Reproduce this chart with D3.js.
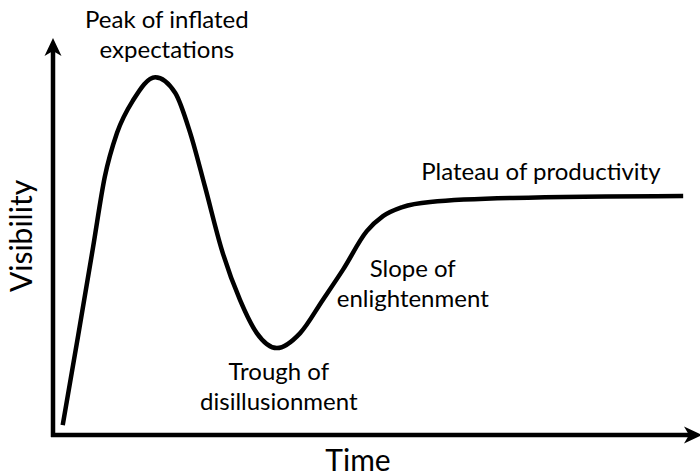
<!DOCTYPE html>
<html lang="en">
<head>
<meta charset="utf-8">
<title>Hype cycle</title>
<script src="https://cdn.jsdelivr.net/npm/d3@7"></script>
<style>
    body { margin: 0; background: #fff; }
    text {
        font-family: Lato, "Noto Sans", sans-serif;
        fill: #000;
    }
    .label { font-size: 24px; }
    .axis-title { font-size: 30px; }
</style>
</head>
<body>
<div id="chart"></div>
<script>

// curve (time 0-100, visibility 0-100)
var timeValues = [1.5, 3.9, 6.2, 8.0, 9.9, 12.4, 15.8, 18.9, 21.2, 23.5, 26.1,
    28.9, 31.5, 34.6, 38.2, 41.7, 44.8, 48.5, 51.0, 54.0, 58.3, 71.1, 97.4];
var visibilityValues = [2.5, 25.3, 47.6, 65.3, 76.5, 84.8, 90.6, 86.6, 76.5, 62.8, 46.8,
    34.2, 25.8, 22.0, 25.8, 34.2, 41.8, 51.6, 55.4, 57.7, 59.0, 60.0, 60.5];

// phase names and where they sit (data units, first line baseline)
var phaseNames = [
    ["Peak of inflated", "expectations"],
    ["Plateau of productivity"],
    ["Slope of", "enlightenment"],
    ["Trough of", "disillusionment"]
];
var phaseTime = [17.6, 75.4, 55.6, 34.9];
var phaseVisibility = [103.0, 64.6, 40.0, 13.9];

var xTitle = "Time", yTitle = "Visibility";

var width = 700, height = 476;

var svg = d3.select("#chart")
    .append("svg")
    .attr("width", width)
    .attr("height", height);

var x = d3.scaleLinear().domain([0, 100]).range([53, 700]);
var y = d3.scaleLinear().domain([0, 100]).range([435, 40]);

var points = timeValues.map(function(t, i) { return [t, visibilityValues[i]]; });

var line = d3.line()
    .x(function(d) { return x(d[0]); })
    .y(function(d) { return y(d[1]); })
    .curve(d3.curveMonotoneX);

svg.append("path")
    .datum(points)
    .attr("d", line)
    .attr("fill", "none")
    .attr("stroke", "#000")
    .attr("stroke-width", 4.5)
    .attr("stroke-linecap", "butt")
    .attr("stroke-linejoin", "round");

// axes: plain lines with arrow heads
var x0 = x(0), y0 = y(0);
var yTip = y.range()[1] - 2, xTip = x.range()[1] + 2;

svg.append("line")
    .attr("x1", x0).attr("y1", y0 + 2)
    .attr("x2", x0).attr("y2", yTip + 12)
    .attr("stroke", "#000").attr("stroke-width", 4.5);

svg.append("line")
    .attr("x1", x0 - 2).attr("y1", y0)
    .attr("x2", xTip - 12).attr("y2", y0)
    .attr("stroke", "#000").attr("stroke-width", 4.5);

var head = "M0,0 L-18,-8.5 L-13,0 L-18,8.5 Z";

svg.append("path")
    .attr("d", head)
    .attr("transform", "translate(" + x0 + "," + yTip + ") rotate(-90)")
    .attr("fill", "#000");

svg.append("path")
    .attr("d", head)
    .attr("transform", "translate(" + xTip + "," + y0 + ")")
    .attr("fill", "#000");

// phase labels
phaseNames.forEach(function(lines, i) {
    var t = svg.append("text")
        .attr("class", "label")
        .attr("text-anchor", "middle")
        .attr("x", x(phaseTime[i]))
        .attr("y", y(phaseVisibility[i]));
    lines.forEach(function(s, j) {
        t.append("tspan")
            .attr("x", x(phaseTime[i]))
            .attr("dy", j == 0 ? 0 : 30)
            .text(s);
    });
});

// axis titles
svg.append("text")
    .attr("class", "axis-title")
    .attr("text-anchor", "middle")
    .attr("x", 358)
    .attr("y", 471)
    .text(xTitle);

svg.append("text")
    .attr("class", "axis-title")
    .attr("text-anchor", "middle")
    .attr("transform", "translate(" + 32 + "," + 236 + ") rotate(-90)")
    .text(yTitle);

</script>
</body>
</html>
